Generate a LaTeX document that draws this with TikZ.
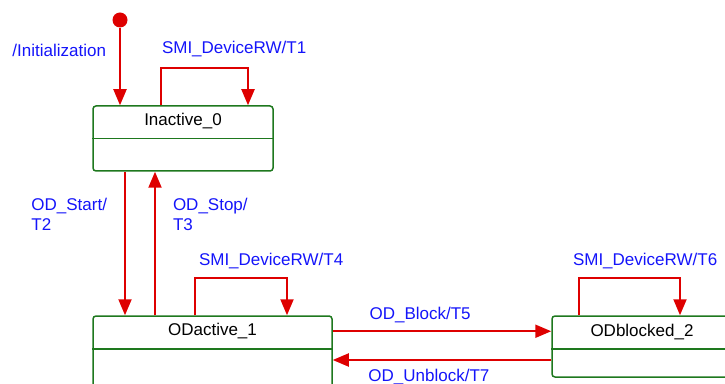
\documentclass[tikz,border=0pt]{standalone}
\usepackage{fontspec}
\setmainfont{Liberation Sans}
\usetikzlibrary{arrows.meta,positioning,calc}
\definecolor{trred}{RGB}{222,0,0}
\definecolor{lblblue}{RGB}{20,20,250}
\definecolor{stgreen}{RGB}{30,120,30}

\begin{document}
\begin{tikzpicture}[x=1pt, y=1pt,
  font=\fontsize{17}{20}\selectfont,
  statebox/.style={draw=stgreen, line width=1.5pt, rounded corners=3pt, inner sep=0pt},
  divider/.style={draw=stgreen, line width=1.5pt},
  trans/.style={draw=trred, line width=2pt, -{Triangle[length=16pt, width=13pt]}},
  lbl/.style={text=lblblue, inner sep=0pt, align=left},
  initdot/.style={circle, fill=trred, inner sep=0pt, minimum size=15pt}
]
\useasboundingbox (0,0) rectangle (725,383);
\clip (0,0) rectangle (725,383);

% states
\node[statebox, minimum width=180pt, minimum height=65pt] (inact) at (183,244.5) {};
\node (inactname) at ([yshift=-16pt]inact.north) {Inactive\_0};
\draw[divider] (inact.west) -- (inact.east);

\node[statebox, minimum width=239pt, minimum height=84pt] (odact) at (212.5,25) {};
\node (odactname) at ([yshift=-16pt]odact.north) {ODactive\_1};
\draw[divider] ([yshift=9pt]odact.west) -- ([yshift=9pt]odact.east);

\node[statebox, minimum width=248pt, minimum height=61pt] (odblk) at (676,36.5) {};
\node (odblkname) at (642,51) {ODblocked\_2};
\draw[divider] ([yshift=-2.5pt]odblk.west) -- ([yshift=-2.5pt]odblk.east);

\node[initdot] (init) at (120,363) {};

% transitions
\draw[trans] (init) -- (init |- inact.north)
  node[lbl, pos=0.29, left=13pt] {/Initialization};
\draw[trans] ([xshift=-22pt]inact.north) -- ++(0,37)
  node[lbl, anchor=west, yshift=19pt] {SMI\_DeviceRW/T1} -| ([xshift=65pt]inact.north);

\draw[trans] ([xshift=-58pt]inact.south) -- ([xshift=-58pt]inact.south |- odact.north)
  node[lbl, pos=0.30, left=17pt] {OD\_Start/\\T2};
\draw[trans] ([xshift=-28pt]inact.south |- odact.north) -- ([xshift=-28pt]inact.south)
  node[lbl, pos=0.70, right=17pt] {OD\_Stop/\\T3};

\draw[trans] ([xshift=-17.5pt]odact.north) -- ++(0,37)
  node[lbl, anchor=west, xshift=3pt, yshift=17pt] {SMI\_DeviceRW/T4} -| ([xshift=74.5pt]odact.north);

\draw[trans] (odact.east |- odactname) -- (odblk.west |- odactname)
  node[lbl, pos=0.40, yshift=16pt] {OD\_Block/T5};
\draw[trans] ([yshift=-13.5pt]odblk.west) -- ([yshift=-13.5pt]odblk.west -| odact.east)
  node[lbl, pos=0.56, yshift=-17pt] {OD\_Unblock/T7};

\draw[trans] ([xshift=-97pt]odblk.north) -- ++(0,37)
  node[lbl, anchor=west, xshift=-7pt, yshift=17pt] {SMI\_DeviceRW/T6} -| ([xshift=4pt]odblk.north);
\end{tikzpicture}
\end{document}
